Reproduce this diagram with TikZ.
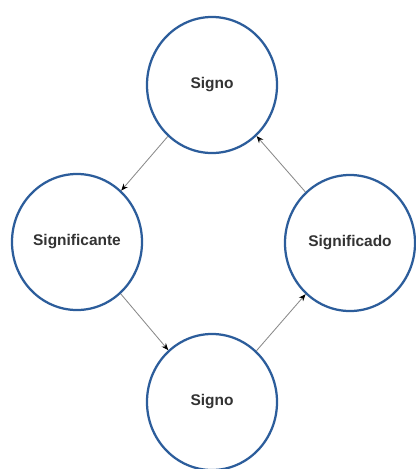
\documentclass[tikz,border=0pt]{standalone}
\usepackage{fontspec}
\setmainfont{Liberation Sans}
\usepackage{xcolor}
\usetikzlibrary{arrows.meta,shapes.geometric}
\definecolor{ringblue}{HTML}{2C5D9B}
\definecolor{textgrey}{HTML}{333333}
\definecolor{greyline}{HTML}{8A8A8A}

\begin{document}
\begin{tikzpicture}[
    x=0.025cm, y=-0.025cm,
    sign/.style={ellipse, draw=ringblue, line width=1.6pt, minimum width=3.25cm, minimum height=3.4cm, inner sep=1pt, fill=white, text=textgrey, font=\bfseries\fontsize{11}{13}\selectfont},
    flow/.style={draw=greyline, line width=0.6pt, -{Stealth[black, length=5pt, width=4pt]}}
]
\useasboundingbox (0,0) rectangle (416,469);
% Circles
\node[sign] (signotop) at (212, 85) {Signo};
\node[sign] (significante) at (77, 242) {Significante};
\node[sign] (significado) at (350, 243) {Significado};
\node[sign] (signobot) at (212, 402) {Signo};

% Cycle
\draw[flow] (signotop) -- (significante);
\draw[flow] (significante) -- (signobot);
\draw[flow] (signobot) -- (significado);
\draw[flow] (significado) -- (signotop);
\end{tikzpicture}
\end{document}
